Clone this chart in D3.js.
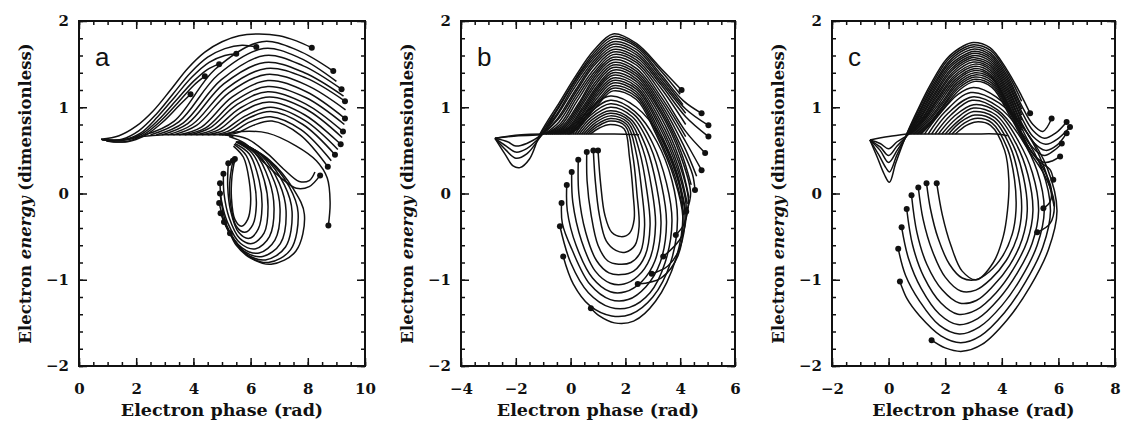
<!DOCTYPE html>
<html>
<head>
<meta charset="utf-8">
<script src="https://cdn.jsdelivr.net/npm/d3@7"></script>
<style>
  body { margin: 0; background: #fff; }
  text { font-family: "DejaVu Serif", serif; font-weight: bold; fill: #111; }
</style>
</head>
<body>
<svg id="chart" width="1124" height="435"></svg>
<script>
// ---- values: [electron phase (rad), electron energy] ----
const panelLetters = ["a", "b", "c"];
const xDomains = [[0, 10], [-4, 6], [-2, 8]];
const xMajorTicks = [[0, 2, 4, 6, 8, 10], [-4, -2, 0, 2, 4, 6], [-2, 0, 2, 4, 6, 8]];
const yMajorTicks = [-2, -1, 0, 1, 2];
const xTitle = "Electron phase (rad)";
const yTitleParts = ["Electron ", "energy", " (dimensionless)"];

// panel a: trajectories that end with a dot
const tracksA = [
  [[0.77,0.63],[1.4,0.67],[2.0,0.78],[2.6,0.96],[3.2,1.2],[3.8,1.45],[4.4,1.64],[5.0,1.76],[5.6,1.83],[6.3,1.85],[7.0,1.83],[7.6,1.77],[8.14,1.69]],
  [[0.8,0.62],[1.5,0.63],[2.1,0.73],[2.7,0.92],[3.3,1.16],[3.9,1.4],[4.5,1.58],[5.1,1.68],[5.7,1.72],[6.2,1.70]],
  [[0.85,0.62],[1.5,0.62],[2.15,0.7],[2.75,0.89],[3.35,1.12],[3.95,1.35],[4.55,1.52],[5.1,1.6],[5.5,1.62]],
  [[0.9,0.62],[1.6,0.62],[2.2,0.69],[2.8,0.86],[3.4,1.08],[4.0,1.3],[4.5,1.44],[4.9,1.5]],
  [[0.95,0.61],[1.6,0.6],[2.25,0.68],[2.85,0.84],[3.45,1.05],[4.0,1.25],[4.4,1.36]],
  [[1.0,0.61],[1.7,0.6],[2.3,0.67],[2.9,0.82],[3.5,1.02],[3.9,1.15]],
  [[2.3,0.68],[3.33,0.84],[4.76,1.44],[6.4,1.76],[7.65,1.66],[8.89,1.42]],
  [[2.7,0.68],[3.65,0.82],[4.98,1.32],[6.5,1.6],[7.84,1.48],[9.18,1.21]],
  [[3.1,0.68],[3.96,0.8],[5.17,1.22],[6.55,1.45],[7.93,1.34],[9.3,1.07]],
  [[3.5,0.68],[4.28,0.77],[5.36,1.12],[6.6,1.31],[7.95,1.18],[9.3,0.87]],
  [[3.9,0.68],[4.58,0.76],[5.52,1.03],[6.6,1.18],[7.92,1.04],[9.23,0.72]],
  [[4.3,0.68],[4.89,0.74],[5.71,0.95],[6.65,1.06],[7.9,0.91],[9.15,0.57]],
  [[4.7,0.68],[5.2,0.72],[5.9,0.87],[6.7,0.95],[7.83,0.8],[8.95,0.45]],
  [[5.1,0.68],[5.51,0.7],[6.09,0.79],[6.75,0.84],[7.73,0.68],[8.7,0.31]],
  [[5.25,0.66],[5.8,0.58],[6.5,0.35],[7.1,0.17],[7.6,0.06],[8.05,0.08],[8.43,0.21]],
  [[5.0,0.68],[5.7,0.72],[6.6,0.7],[7.6,0.55],[8.3,0.38],[8.68,0.18],[8.78,-0.1],[8.72,-0.37]],
  [[5.4,0.55],[5.75,0.42],[5.95,0.15],[6.0,-0.12],[5.9,-0.3],[5.68,-0.38],[5.45,-0.3],[5.33,-0.05],[5.35,0.2],[5.45,0.4]],
  [[5.42,0.57],[5.85,0.44],[6.12,0.15],[6.2,-0.14],[6.08,-0.36],[5.8,-0.45],[5.5,-0.38],[5.3,-0.12],[5.27,0.12],[5.38,0.38]],
  [[5.45,0.58],[5.95,0.46],[6.3,0.15],[6.4,-0.15],[6.27,-0.41],[5.95,-0.52],[5.58,-0.45],[5.3,-0.2],[5.2,0.08],[5.22,0.35]],
  [[5.48,0.6],[6.05,0.47],[6.48,0.15],[6.61,-0.16],[6.47,-0.46],[6.05,-0.58],[5.62,-0.52],[5.25,-0.28],[5.07,0.0],[5.05,0.23]],
  [[5.5,0.6],[6.15,0.47],[6.65,0.15],[6.82,-0.17],[6.66,-0.5],[6.18,-0.64],[5.65,-0.58],[5.2,-0.34],[4.98,-0.08],[4.93,0.12]],
  [[5.52,0.6],[6.25,0.46],[6.83,0.14],[7.03,-0.18],[6.85,-0.54],[6.3,-0.69],[5.7,-0.63],[5.18,-0.38],[4.93,0.0]],
  [[5.55,0.6],[6.35,0.45],[7.0,0.12],[7.24,-0.2],[7.04,-0.58],[6.42,-0.73],[5.78,-0.67],[5.2,-0.42],[4.9,-0.11]],
  [[5.57,0.6],[6.45,0.43],[7.18,0.1],[7.45,-0.21],[7.22,-0.62],[6.52,-0.77],[5.85,-0.7],[5.25,-0.45],[4.95,-0.23]],
  [[5.6,0.6],[6.55,0.41],[7.35,0.08],[7.66,-0.22],[7.4,-0.65],[6.62,-0.8],[5.9,-0.72],[5.35,-0.5],[5.07,-0.33]],
  [[5.62,0.6],[6.65,0.39],[7.5,0.05],[7.88,-0.24],[7.58,-0.67],[6.72,-0.82],[6.0,-0.75],[5.5,-0.6],[5.28,-0.46]]
];
// panel a: trajectories drawn without an end dot
const plainA = [
  [[0.77,0.63],[1.5,0.62],[2.2,0.66],[3.0,0.68],[4.0,0.68],[5.0,0.68],[5.4,0.66]],
  [[2.5,0.68],[3.49,0.83],[4.87,1.38],[6.45,1.68],[7.73,1.57],[9.0,1.3]],
  [[2.9,0.68],[3.8,0.81],[5.06,1.27],[6.5,1.52],[7.88,1.4],[9.25,1.13]],
  [[3.3,0.68],[4.11,0.79],[5.25,1.17],[6.55,1.38],[7.94,1.26],[9.32,0.97]],
  [[3.7,0.68],[4.43,0.76],[5.44,1.07],[6.6,1.24],[7.94,1.11],[9.28,0.8]],
  [[4.1,0.68],[4.74,0.75],[5.63,0.99],[6.65,1.12],[7.93,0.98],[9.2,0.65]],
  [[4.5,0.68],[5.05,0.73],[5.82,0.9],[6.7,1.0],[7.88,0.85],[9.05,0.51]],
  [[4.9,0.68],[5.35,0.71],[5.98,0.83],[6.7,0.89],[7.76,0.74],[8.82,0.38]],
  [[5.2,0.68],[5.9,0.63],[6.6,0.46],[7.2,0.27],[7.7,0.14],[8.05,0.15],[8.25,0.25]]
];

// panel b
const tracksB = [
  [[-2.76,0.64],[-2.4,0.46],[-2.1,0.32],[-1.85,0.3],[-1.5,0.4],[-1.1,0.7],[-0.4,1.06],[0.2,1.37],[0.85,1.66],[1.55,1.85],[2.4,1.74],[3.3,1.45],[4.05,1.2]],
  [[-2.76,0.64],[-2.35,0.5],[-2.0,0.41],[-1.6,0.46],[-1.1,0.66],[-0.5,0.96],[0.15,1.3],[0.85,1.6],[1.55,1.79],[2.4,1.7],[3.3,1.38],[4.1,1.08],[4.78,0.93]],
  [[-2.76,0.64],[-2.35,0.55],[-2.0,0.48],[-1.6,0.52],[-1.1,0.66],[-0.5,0.9],[0.15,1.23],[0.85,1.54],[1.55,1.73],[2.4,1.64],[3.3,1.32],[4.2,0.98],[5.03,0.79]],
  [[-2.76,0.64],[-2.3,0.6],[-2.0,0.55],[-1.6,0.58],[-1.1,0.67],[-0.45,0.86],[0.2,1.18],[0.85,1.48],[1.55,1.67],[2.4,1.58],[3.3,1.26],[4.2,0.89],[5.03,0.66]],
  [[-2.76,0.64],[-1.9,0.67],[-1.0,0.69],[-0.4,0.8],[0.2,1.1],[0.9,1.42],[1.55,1.61],[2.4,1.52],[3.3,1.17],[4.2,0.72],[4.91,0.47]],
  [[-0.9,0.69],[-0.3,0.78],[0.3,1.05],[0.9,1.36],[1.55,1.55],[2.4,1.45],[3.3,1.08],[4.2,0.6],[4.78,0.27]],
  [[-0.75,0.69],[-0.2,0.77],[0.35,1.02],[0.95,1.31],[1.55,1.49],[2.4,1.39],[3.3,1.0],[4.05,0.53],[4.45,0.22],[4.54,0.04]],
  [[-0.6,0.69],[-0.1,0.76],[0.4,0.98],[1.0,1.26],[1.55,1.43],[2.4,1.33],[3.3,0.93],[4.0,0.45],[4.38,0.0],[4.22,-0.21]],
  [[-0.45,0.69],[0.0,0.76],[0.45,0.95],[1.0,1.21],[1.55,1.37],[2.4,1.27],[3.25,0.86],[3.95,0.36],[4.3,-0.08],[4.13,-0.36],[3.84,-0.48]],
  [[-0.3,0.69],[0.1,0.76],[0.5,0.92],[1.0,1.15],[1.55,1.31],[2.4,1.21],[3.2,0.8],[3.9,0.28],[4.22,-0.16],[4.05,-0.5],[3.38,-0.73]],
  [[-0.15,0.69],[0.2,0.76],[0.55,0.9],[1.05,1.1],[1.55,1.25],[2.4,1.15],[3.15,0.74],[3.85,0.22],[4.17,-0.22],[4.0,-0.62],[3.55,-0.84],[2.96,-0.93]],
  [[-0.05,0.69],[0.3,0.76],[0.6,0.88],[1.05,1.05],[1.55,1.19],[2.4,1.09],[3.1,0.7],[3.8,0.16],[4.1,-0.28],[3.92,-0.72],[3.3,-0.98],[2.45,-1.05]],
  [[0.0,0.69],[0.6,0.95],[1.45,1.13],[2.4,1.0],[3.3,0.65],[3.9,0.2],[4.1,-0.25],[3.85,-0.75],[3.1,-1.25],[2.3,-1.48],[1.6,-1.5],[1.05,-1.42],[0.74,-1.33]],
  [[0.08,0.69],[0.65,0.92],[1.45,1.08],[2.35,0.95],[3.15,0.6],[3.7,0.15],[3.9,-0.3],[3.65,-0.8],[3.0,-1.2],[2.2,-1.4],[1.5,-1.42],[0.7,-1.3],[0.1,-1.05],[-0.27,-0.73]],
  [[0.16,0.69],[0.7,0.9],[1.45,1.04],[2.3,0.92],[3.0,0.58],[3.5,0.12],[3.7,-0.32],[3.45,-0.8],[2.9,-1.15],[2.15,-1.32],[1.45,-1.32],[0.65,-1.15],[0.0,-0.8],[-0.39,-0.38]],
  [[0.24,0.69],[0.75,0.88],[1.45,1.0],[2.25,0.89],[2.9,0.55],[3.32,0.1],[3.5,-0.34],[3.27,-0.8],[2.75,-1.08],[2.1,-1.23],[1.45,-1.23],[0.7,-1.05],[0.05,-0.65],[-0.3,-0.35],[-0.33,-0.11]],
  [[0.32,0.69],[0.8,0.86],[1.45,0.96],[2.2,0.86],[2.78,0.52],[3.14,0.08],[3.3,-0.35],[3.08,-0.78],[2.6,-1.02],[2.0,-1.14],[1.45,-1.14],[0.8,-0.98],[0.2,-0.6],[-0.12,-0.2],[-0.14,0.1]],
  [[0.4,0.69],[0.85,0.84],[1.45,0.93],[2.15,0.84],[2.65,0.5],[2.96,0.06],[3.1,-0.36],[2.9,-0.75],[2.45,-0.96],[1.95,-1.05],[1.45,-1.04],[0.9,-0.9],[0.4,-0.55],[0.08,-0.1],[0.04,0.25]],
  [[0.48,0.69],[0.9,0.82],[1.45,0.9],[2.1,0.82],[2.52,0.48],[2.78,0.04],[2.9,-0.37],[2.72,-0.72],[2.3,-0.9],[1.85,-0.94],[1.4,-0.92],[0.95,-0.78],[0.55,-0.45],[0.3,0.0],[0.28,0.39]],
  [[0.56,0.69],[0.95,0.8],[1.45,0.87],[2.05,0.8],[2.4,0.46],[2.6,0.02],[2.7,-0.38],[2.55,-0.68],[2.2,-0.8],[1.75,-0.82],[1.35,-0.78],[1.0,-0.6],[0.75,-0.25],[0.6,0.15],[0.59,0.48]],
  [[0.64,0.69],[1.0,0.78],[1.45,0.84],[2.0,0.78],[2.27,0.44],[2.42,0.0],[2.5,-0.38],[2.35,-0.6],[2.0,-0.68],[1.65,-0.66],[1.3,-0.55],[1.05,-0.25],[0.9,0.15],[0.83,0.5]],
  [[0.72,0.69],[1.05,0.76],[1.45,0.8],[1.95,0.75],[2.15,0.42],[2.28,0.0],[2.32,-0.3],[2.15,-0.46],[1.85,-0.5],[1.5,-0.45],[1.25,-0.25],[1.1,0.1],[1.0,0.5]]
];
const plainB = [
  [[-2.76,0.64],[-1.8,0.68],[-0.8,0.69],[0.4,0.69],[1.6,0.69],[2.5,0.68]],
  [[-1.1,0.69],[-0.45,1.0],[0.18,1.33],[0.85,1.63],[1.55,1.82],[2.4,1.72],[3.3,1.42],[4.0,1.15]],
  [[-1.05,0.69],[-0.48,0.93],[0.15,1.27],[0.85,1.57],[1.55,1.76],[2.4,1.67],[3.3,1.35],[4.1,1.03]],
  [[-1.0,0.69],[-0.45,0.88],[0.18,1.2],[0.85,1.51],[1.55,1.7],[2.4,1.61],[3.3,1.29],[4.2,0.93]],
  [[-0.95,0.69],[-0.42,0.83],[0.2,1.14],[0.88,1.45],[1.55,1.64],[2.4,1.55],[3.3,1.22],[4.2,0.8]],
  [[-0.92,0.69],[-0.35,0.79],[0.25,1.08],[0.9,1.39],[1.55,1.58],[2.4,1.49],[3.3,1.12],[4.2,0.66]],
  [[-0.82,0.69],[-0.25,0.775],[0.32,1.035],[0.92,1.335],[1.55,1.52],[2.4,1.42],[3.3,1.04],[4.12,0.56],[4.6,0.2]],
  [[-0.68,0.69],[-0.15,0.765],[0.37,1.0],[0.97,1.285],[1.55,1.46],[2.4,1.36],[3.3,0.96],[4.02,0.49],[4.4,0.1]],
  [[-0.52,0.69],[-0.05,0.76],[0.42,0.965],[1.0,1.235],[1.55,1.4],[2.4,1.3],[3.27,0.9],[3.97,0.4],[4.32,-0.05]],
  [[-0.38,0.69],[0.05,0.76],[0.47,0.935],[1.0,1.18],[1.55,1.34],[2.4,1.24],[3.22,0.83],[3.92,0.32],[4.26,-0.12]],
  [[-0.22,0.69],[0.15,0.76],[0.52,0.91],[1.02,1.125],[1.55,1.28],[2.4,1.18],[3.17,0.77],[3.87,0.25],[4.2,-0.2]],
  [[-0.1,0.69],[0.25,0.76],[0.57,0.89],[1.05,1.075],[1.55,1.22],[2.4,1.12],[3.12,0.72],[3.82,0.19],[4.13,-0.25]]
];

// panel c
const tracksC = [
  [[-0.66,0.62],[-0.4,0.42],[-0.15,0.22],[0.03,0.13],[0.25,0.35],[0.64,0.69],[1.0,0.95],[1.46,1.25],[2.05,1.56],[2.64,1.71],[3.0,1.75],[3.58,1.69],[4.17,1.44],[4.7,1.13],[5.0,0.93]],
  [[-0.66,0.62],[-0.35,0.45],[-0.1,0.3],[0.03,0.25],[0.3,0.45],[0.66,0.69],[1.05,0.93],[1.5,1.21],[2.1,1.52],[2.7,1.67],[3.05,1.7],[3.6,1.63],[4.2,1.36],[4.7,1.02],[5.1,0.8],[5.45,0.72],[5.76,0.87]],
  [[-0.66,0.62],[-0.3,0.5],[0.0,0.36],[0.3,0.5],[0.68,0.69],[1.1,0.92],[1.55,1.18],[2.15,1.48],[2.75,1.62],[3.05,1.65],[3.6,1.58],[4.2,1.3],[4.7,0.95],[5.1,0.73],[5.5,0.64],[5.9,0.7],[6.29,0.83]],
  [[-0.66,0.62],[-0.3,0.54],[0.0,0.44],[0.3,0.55],[0.7,0.69],[1.15,0.9],[1.6,1.15],[2.2,1.44],[2.8,1.58],[3.05,1.6],[3.6,1.53],[4.2,1.24],[4.7,0.88],[5.1,0.66],[5.55,0.57],[6.0,0.64],[6.41,0.77]],
  [[-0.66,0.62],[-0.3,0.58],[0.0,0.52],[0.3,0.6],[0.72,0.69],[1.2,0.88],[1.65,1.12],[2.25,1.4],[2.85,1.54],[3.05,1.55],[3.6,1.48],[4.2,1.18],[4.7,0.82],[5.1,0.6],[5.55,0.5],[5.95,0.56],[6.29,0.7]],
  [[0.75,0.69],[1.25,0.87],[1.7,1.09],[2.3,1.36],[3.05,1.5],[3.6,1.43],[4.2,1.12],[4.7,0.76],[5.1,0.53],[5.5,0.44],[5.85,0.5],[6.12,0.58]],
  [[0.85,0.69],[1.3,0.86],[1.75,1.06],[2.35,1.32],[3.05,1.45],[3.6,1.38],[4.2,1.06],[4.7,0.7],[5.1,0.46],[5.5,0.36],[5.8,0.38],[6.06,0.43]],
  [[0.95,0.69],[1.4,0.85],[1.85,1.04],[2.4,1.28],[3.05,1.4],[3.65,1.33],[4.25,1.0],[4.8,0.62],[5.3,0.38],[5.7,0.28],[5.82,0.16]],
  [[1.05,0.69],[1.5,0.84],[1.9,1.01],[2.45,1.24],[3.05,1.35],[3.65,1.28],[4.3,0.94],[4.9,0.56],[5.45,0.3],[5.75,0.05],[5.7,-0.1],[5.47,-0.17]],
  [[1.15,0.69],[1.55,0.83],[1.95,0.99],[2.5,1.2],[3.05,1.3],[3.65,1.23],[4.3,0.89],[4.95,0.5],[5.5,0.22],[5.85,-0.1],[5.7,-0.35],[5.25,-0.45]],
  [[1.4,0.69],[2.0,0.95],[2.9,1.17],[3.9,1.05],[4.9,0.7],[5.6,0.3],[5.95,-0.2],[5.65,-0.65],[5.0,-1.08],[4.2,-1.46],[3.3,-1.75],[2.6,-1.83],[2.0,-1.79],[1.52,-1.7]],
  [[1.52,0.69],[2.1,0.93],[2.95,1.12],[3.9,1.0],[4.8,0.66],[5.42,0.28],[5.72,-0.2],[5.45,-0.62],[4.85,-1.02],[4.1,-1.38],[3.25,-1.65],[2.55,-1.73],[1.85,-1.65],[1.1,-1.42],[0.65,-1.22],[0.4,-1.02]],
  [[1.64,0.69],[2.2,0.91],[2.95,1.08],[3.85,0.97],[4.7,0.63],[5.25,0.26],[5.5,-0.2],[5.25,-0.6],[4.7,-0.97],[4.0,-1.3],[3.2,-1.55],[2.5,-1.63],[1.8,-1.53],[1.1,-1.25],[0.6,-0.95],[0.34,-0.64]],
  [[1.76,0.69],[2.3,0.89],[3.0,1.03],[3.85,0.94],[4.6,0.6],[5.08,0.24],[5.3,-0.2],[5.07,-0.58],[4.55,-0.92],[3.9,-1.22],[3.15,-1.45],[2.45,-1.52],[1.8,-1.4],[1.15,-1.1],[0.7,-0.75],[0.46,-0.39]],
  [[1.88,0.69],[2.4,0.87],[3.0,0.99],[3.8,0.91],[4.5,0.58],[4.92,0.22],[5.1,-0.2],[4.9,-0.55],[4.4,-0.88],[3.8,-1.15],[3.1,-1.35],[2.45,-1.4],[1.85,-1.27],[1.25,-0.97],[0.85,-0.6],[0.64,-0.18]],
  [[2.0,0.69],[2.5,0.85],[3.0,0.95],[3.75,0.88],[4.4,0.56],[4.76,0.2],[4.9,-0.2],[4.72,-0.53],[4.28,-0.83],[3.7,-1.07],[3.1,-1.24],[2.5,-1.27],[1.9,-1.12],[1.35,-0.82],[1.0,-0.45],[0.81,-0.02]],
  [[2.12,0.69],[2.55,0.83],[3.05,0.91],[3.7,0.85],[4.3,0.54],[4.6,0.18],[4.7,-0.2],[4.55,-0.5],[4.15,-0.78],[3.62,-0.99],[3.08,-1.12],[2.55,-1.13],[2.0,-0.97],[1.55,-0.67],[1.22,-0.3],[1.05,0.07]],
  [[2.24,0.69],[2.65,0.81],[3.05,0.87],[3.65,0.82],[4.2,0.52],[4.45,0.16],[4.5,-0.2],[4.37,-0.47],[4.02,-0.73],[3.55,-0.91],[3.08,-1.0],[2.6,-0.98],[2.15,-0.82],[1.75,-0.52],[1.48,-0.18],[1.34,0.12]],
  [[2.36,0.69],[2.75,0.79],[3.1,0.83],[3.6,0.79],[4.1,0.5],[4.25,0.15],[4.2,-0.2],[4.05,-0.5],[3.7,-0.8],[3.1,-1.0],[2.6,-0.9],[2.2,-0.6],[1.9,-0.25],[1.7,0.12]]
];
const plainC = [
  [[-0.66,0.62],[0.0,0.66],[0.64,0.69]],
  [[0.64,0.69],[1.4,0.69],[2.2,0.69],[3.0,0.69],[3.8,0.69],[4.2,0.67]],
  [[0.64,0.69],[1.02,0.94],[1.48,1.23],[2.07,1.54],[2.67,1.69],[3.02,1.725],[3.6,1.66],[4.19,1.4],[4.7,1.07]],
  [[0.67,0.69],[1.07,0.925],[1.52,1.195],[2.12,1.5],[2.72,1.645],[3.05,1.675],[3.6,1.605],[4.2,1.33],[4.7,0.98]],
  [[0.69,0.69],[1.12,0.91],[1.57,1.165],[2.17,1.46],[2.77,1.6],[3.05,1.625],[3.6,1.555],[4.2,1.27],[4.7,0.91]],
  [[0.71,0.69],[1.17,0.89],[1.62,1.135],[2.22,1.42],[2.82,1.56],[3.05,1.575],[3.6,1.505],[4.2,1.21],[4.7,0.85]],
  [[0.74,0.69],[1.22,0.875],[1.67,1.105],[2.27,1.38],[3.0,1.525],[3.6,1.455],[4.2,1.15],[4.7,0.79]],
  [[0.8,0.69],[1.27,0.865],[1.72,1.075],[2.32,1.34],[3.05,1.475],[3.6,1.405],[4.2,1.09],[4.7,0.73]],
  [[0.9,0.69],[1.35,0.855],[1.8,1.05],[2.37,1.3],[3.05,1.425],[3.62,1.355],[4.22,1.03],[4.75,0.66]],
  [[1.0,0.69],[1.45,0.845],[1.87,1.025],[2.42,1.26],[3.05,1.375],[3.65,1.305],[4.27,0.97],[4.85,0.59]],
  [[1.1,0.69],[1.52,0.835],[1.92,1.0],[2.47,1.22],[3.05,1.325],[3.65,1.255],[4.3,0.92],[4.92,0.53]],
  [[1.27,0.69],[1.75,0.9],[2.45,1.15],[3.0,1.23],[3.8,1.12],[4.8,0.75],[5.5,0.3],[5.85,-0.15]]
];

// ---- layout ----
const frameTop = 21, frameBottom = 366;
const frameLefts = [79, 461, 832];
const frameRights = [365, 735, 1115];
const allTracks = [tracksA, tracksB, tracksC];
const allPlain = [plainA, plainB, plainC];

const svg = d3.select("#chart");

panelLetters.forEach((letter, i) => {
  const x = d3.scaleLinear().domain(xDomains[i]).range([frameLefts[i], frameRights[i]]);
  const y = d3.scaleLinear().domain([-2, 2]).range([frameBottom, frameTop]);
  const g = svg.append("g").attr("class", "panel-" + letter);

  const line = d3.line()
    .x(d => x(d[0]))
    .y(d => y(d[1]))
    .curve(d3.curveCatmullRom.alpha(0.5));

  // trajectories
  g.append("g").selectAll("path")
    .data(allTracks[i].concat(allPlain[i]))
    .join("path")
    .attr("d", line)
    .attr("fill", "none")
    .attr("stroke", "#111")
    .attr("stroke-width", 1.5);

  // end points of the dotted trajectories
  g.append("g").selectAll("circle")
    .data(allTracks[i].map(t => t[t.length - 1]))
    .join("circle")
    .attr("cx", d => x(d[0]))
    .attr("cy", d => y(d[1]))
    .attr("r", 3)
    .attr("fill", "#111");

  // minor ticks (inward on all four sides)
  const xMinor = d3.range(xDomains[i][0], xDomains[i][1] + 0.01, 0.5);
  const yMinor = d3.range(-2, 2.01, 0.2);
  const noDomain = s => s.select(".domain").remove();

  g.append("g").attr("transform", `translate(0,${frameBottom})`)
    .call(d3.axisBottom(x).tickValues(xMinor).tickSize(-4).tickFormat("")).call(noDomain);
  g.append("g").attr("transform", `translate(0,${frameTop})`)
    .call(d3.axisTop(x).tickValues(xMinor).tickSize(-4).tickFormat("")).call(noDomain);
  g.append("g").attr("transform", `translate(${frameLefts[i]},0)`)
    .call(d3.axisLeft(y).tickValues(yMinor).tickSize(-4).tickFormat("")).call(noDomain);
  g.append("g").attr("transform", `translate(${frameRights[i]},0)`)
    .call(d3.axisRight(y).tickValues(yMinor).tickSize(-4).tickFormat("")).call(noDomain);

  // major ticks + labels
  const fmt = d3.format("d");
  g.append("g").attr("class", "x-axis").attr("transform", `translate(0,${frameBottom})`)
    .call(d3.axisBottom(x).tickValues(xMajorTicks[i]).tickSize(-8).tickPadding(17).tickFormat(fmt)).call(noDomain);
  g.append("g").attr("transform", `translate(0,${frameTop})`)
    .call(d3.axisTop(x).tickValues(xMajorTicks[i]).tickSize(-8).tickFormat("")).call(noDomain);
  g.append("g").attr("class", "y-axis").attr("transform", `translate(${frameLefts[i]},0)`)
    .call(d3.axisLeft(y).tickValues(yMajorTicks).tickSize(-8).tickPadding(10).tickFormat(fmt)).call(noDomain);
  g.append("g").attr("transform", `translate(${frameRights[i]},0)`)
    .call(d3.axisRight(y).tickValues(yMajorTicks).tickSize(-8).tickFormat("")).call(noDomain);

  g.selectAll(".tick line").attr("stroke", "#111").attr("stroke-width", 1.5);
  g.selectAll(".x-axis text, .y-axis text")
    .style("font-family", "'DejaVu Serif', serif")
    .style("font-weight", "bold")
    .style("font-size", "15px")
    .attr("fill", "#111");

  // frame
  g.append("rect")
    .attr("x", frameLefts[i]).attr("y", frameTop)
    .attr("width", frameRights[i] - frameLefts[i])
    .attr("height", frameBottom - frameTop)
    .attr("fill", "none").attr("stroke", "#111").attr("stroke-width", 2);

  // panel letter
  g.append("text")
    .attr("x", frameLefts[i] + 16).attr("y", 66)
    .style("font-family", "'Liberation Sans', Arial, sans-serif")
    .style("font-weight", "normal")
    .style("font-size", "26px")
    .text(letter);

  // axis titles
  g.append("text")
    .attr("x", (frameLefts[i] + frameRights[i]) / 2)
    .attr("y", 416)
    .attr("text-anchor", "middle")
    .style("font-size", "17.5px")
    .text(xTitle);

  const yt = g.append("text")
    .attr("transform", `translate(${frameLefts[i] - 54},${(frameTop + frameBottom) / 2}) rotate(-90)`)
    .attr("text-anchor", "middle")
    .attr("dy", "0.35em")
    .style("font-size", "16.5px");
  yTitleParts.forEach((part, k) => {
    yt.append("tspan").style("font-style", k === 1 ? "italic" : "normal").text(part);
  });
});
</script>
</body>
</html>
